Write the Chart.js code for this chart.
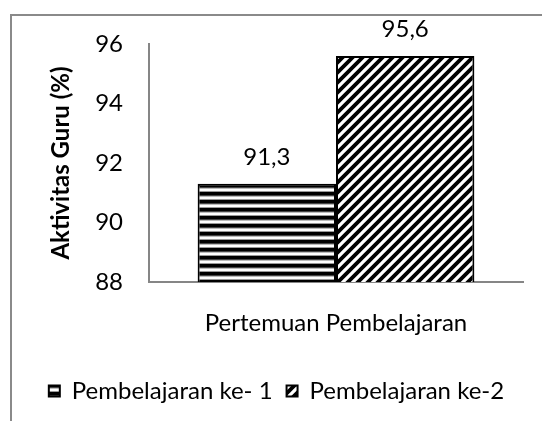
<!DOCTYPE html>
<html>
<head>
<meta charset="utf-8">
<script src="https://cdn.jsdelivr.net/npm/chart.js@4/dist/chart.umd.min.js"></script>
<style>
  html, body { margin: 0; padding: 0; background: #fff; }
  canvas { display: block; }
</style>
</head>
<body>
<canvas id="chart" width="542" height="421"></canvas>
<script>
// Data
const categories = ['Pertemuan Pembelajaran'];
const seriesNames = ['Pembelajaran ke- 1', 'Pembelajaran ke-2'];
const seriesValues = [[91.3], [95.6]];
const yTicks = [88, 90, 92, 94, 96];

const FONT = 'Lato, "Open Sans", sans-serif';
const AXIS_GRAY = '#868686';

// Horizontal black/white stripes
function stripePattern() {
  const c = document.createElement('canvas');
  c.width = 8; c.height = 8;
  const g = c.getContext('2d');
  const rows = ['#000', '#000', '#000', '#444', '#bbb', '#fff', '#fff', '#999'];
  rows.forEach((col, i) => { g.fillStyle = col; g.fillRect(0, i, 8, 1); });
  return g.createPattern(c, 'repeat');
}

// Diagonal "/" black/white stripes
function diagonalPattern() {
  const n = 10;
  const c = document.createElement('canvas');
  c.width = n; c.height = n;
  const g = c.getContext('2d');
  g.fillStyle = '#fff';
  g.fillRect(0, 0, n, n);
  g.strokeStyle = '#000';
  g.lineWidth = 3.8;
  g.beginPath();
  g.moveTo(-1, n + 1); g.lineTo(n + 1, -1);
  g.moveTo(-2, 2); g.lineTo(2, -2);
  g.moveTo(n - 2, n + 2); g.lineTo(n + 2, n - 2);
  g.stroke();
  return g.createPattern(c, 'repeat');
}

const fills = [stripePattern(), diagonalPattern()];

// Outer frame (left and top edges) on a white background
const framePlugin = {
  id: 'frame',
  beforeDraw(chart) {
    const ctx = chart.ctx;
    ctx.save();
    ctx.fillStyle = '#fff';
    ctx.fillRect(0, 0, chart.width, chart.height);
    ctx.strokeStyle = '#8a8a8a';
    ctx.lineWidth = 2;
    ctx.beginPath();
    ctx.moveTo(11, chart.height);
    ctx.lineTo(11, 15);
    ctx.lineTo(chart.width, 15);
    ctx.stroke();
    ctx.restore();
  }
};

// Value labels above each bar, comma as decimal separator
const valueLabels = {
  id: 'valueLabels',
  afterDatasetsDraw(chart) {
    const ctx = chart.ctx;
    ctx.save();
    ctx.font = '24px ' + FONT;
    ctx.fillStyle = '#000';
    ctx.textAlign = 'center';
    ctx.textBaseline = 'middle';
    chart.data.datasets.forEach((ds, i) => {
      chart.getDatasetMeta(i).data.forEach((bar, j) => {
        const txt = ds.data[j].toFixed(1).replace('.', ',');
        ctx.fillText(txt, bar.x, bar.y - 27);
      });
    });
    ctx.restore();
  }
};

new Chart(document.getElementById('chart'), {
  type: 'bar',
  data: {
    labels: categories,
    datasets: seriesNames.map((name, i) => ({
      label: name,
      data: seriesValues[i],
      backgroundColor: fills[i],
      borderColor: '#000',
      borderWidth: 2,
      categoryPercentage: 0.74,
      barPercentage: 1
    }))
  },
  options: {
    responsive: false,
    animation: false,
    devicePixelRatio: 1,
    layout: { padding: { left: 30, right: 19, top: 44, bottom: 8 } },
    plugins: {
      legend: {
        position: 'bottom',
        labels: {
          font: { family: FONT, size: 24 },
          color: '#000',
          boxWidth: 11,
          boxHeight: 11,
          padding: 14
        }
      },
      tooltip: { enabled: false }
    },
    scales: {
      x: {
        grid: { display: false, drawTicks: false },
        border: { display: true, color: AXIS_GRAY, width: 2 },
        ticks: { font: { family: FONT, size: 24 }, color: '#000', padding: 27 },
        afterFit(s) { s.height = 83; }
      },
      y: {
        min: yTicks[0],
        max: yTicks[yTicks.length - 1],
        afterBuildTicks(s) { s.ticks = yTicks.map(v => ({ value: v })); },
        grid: { display: false, drawTicks: false },
        border: { display: true, color: AXIS_GRAY, width: 2 },
        ticks: { font: { family: FONT, size: 24 }, color: '#000', padding: 26 },
        title: {
          display: true,
          text: 'Aktivitas Guru (%)',
          font: { family: FONT, size: 24, weight: 'bold' },
          color: '#000',
          padding: { top: 17, bottom: 0 }
        },
        afterFit(s) { s.width = 119; }
      }
    }
  },
  plugins: [framePlugin, valueLabels]
});
</script>
</body>
</html>
